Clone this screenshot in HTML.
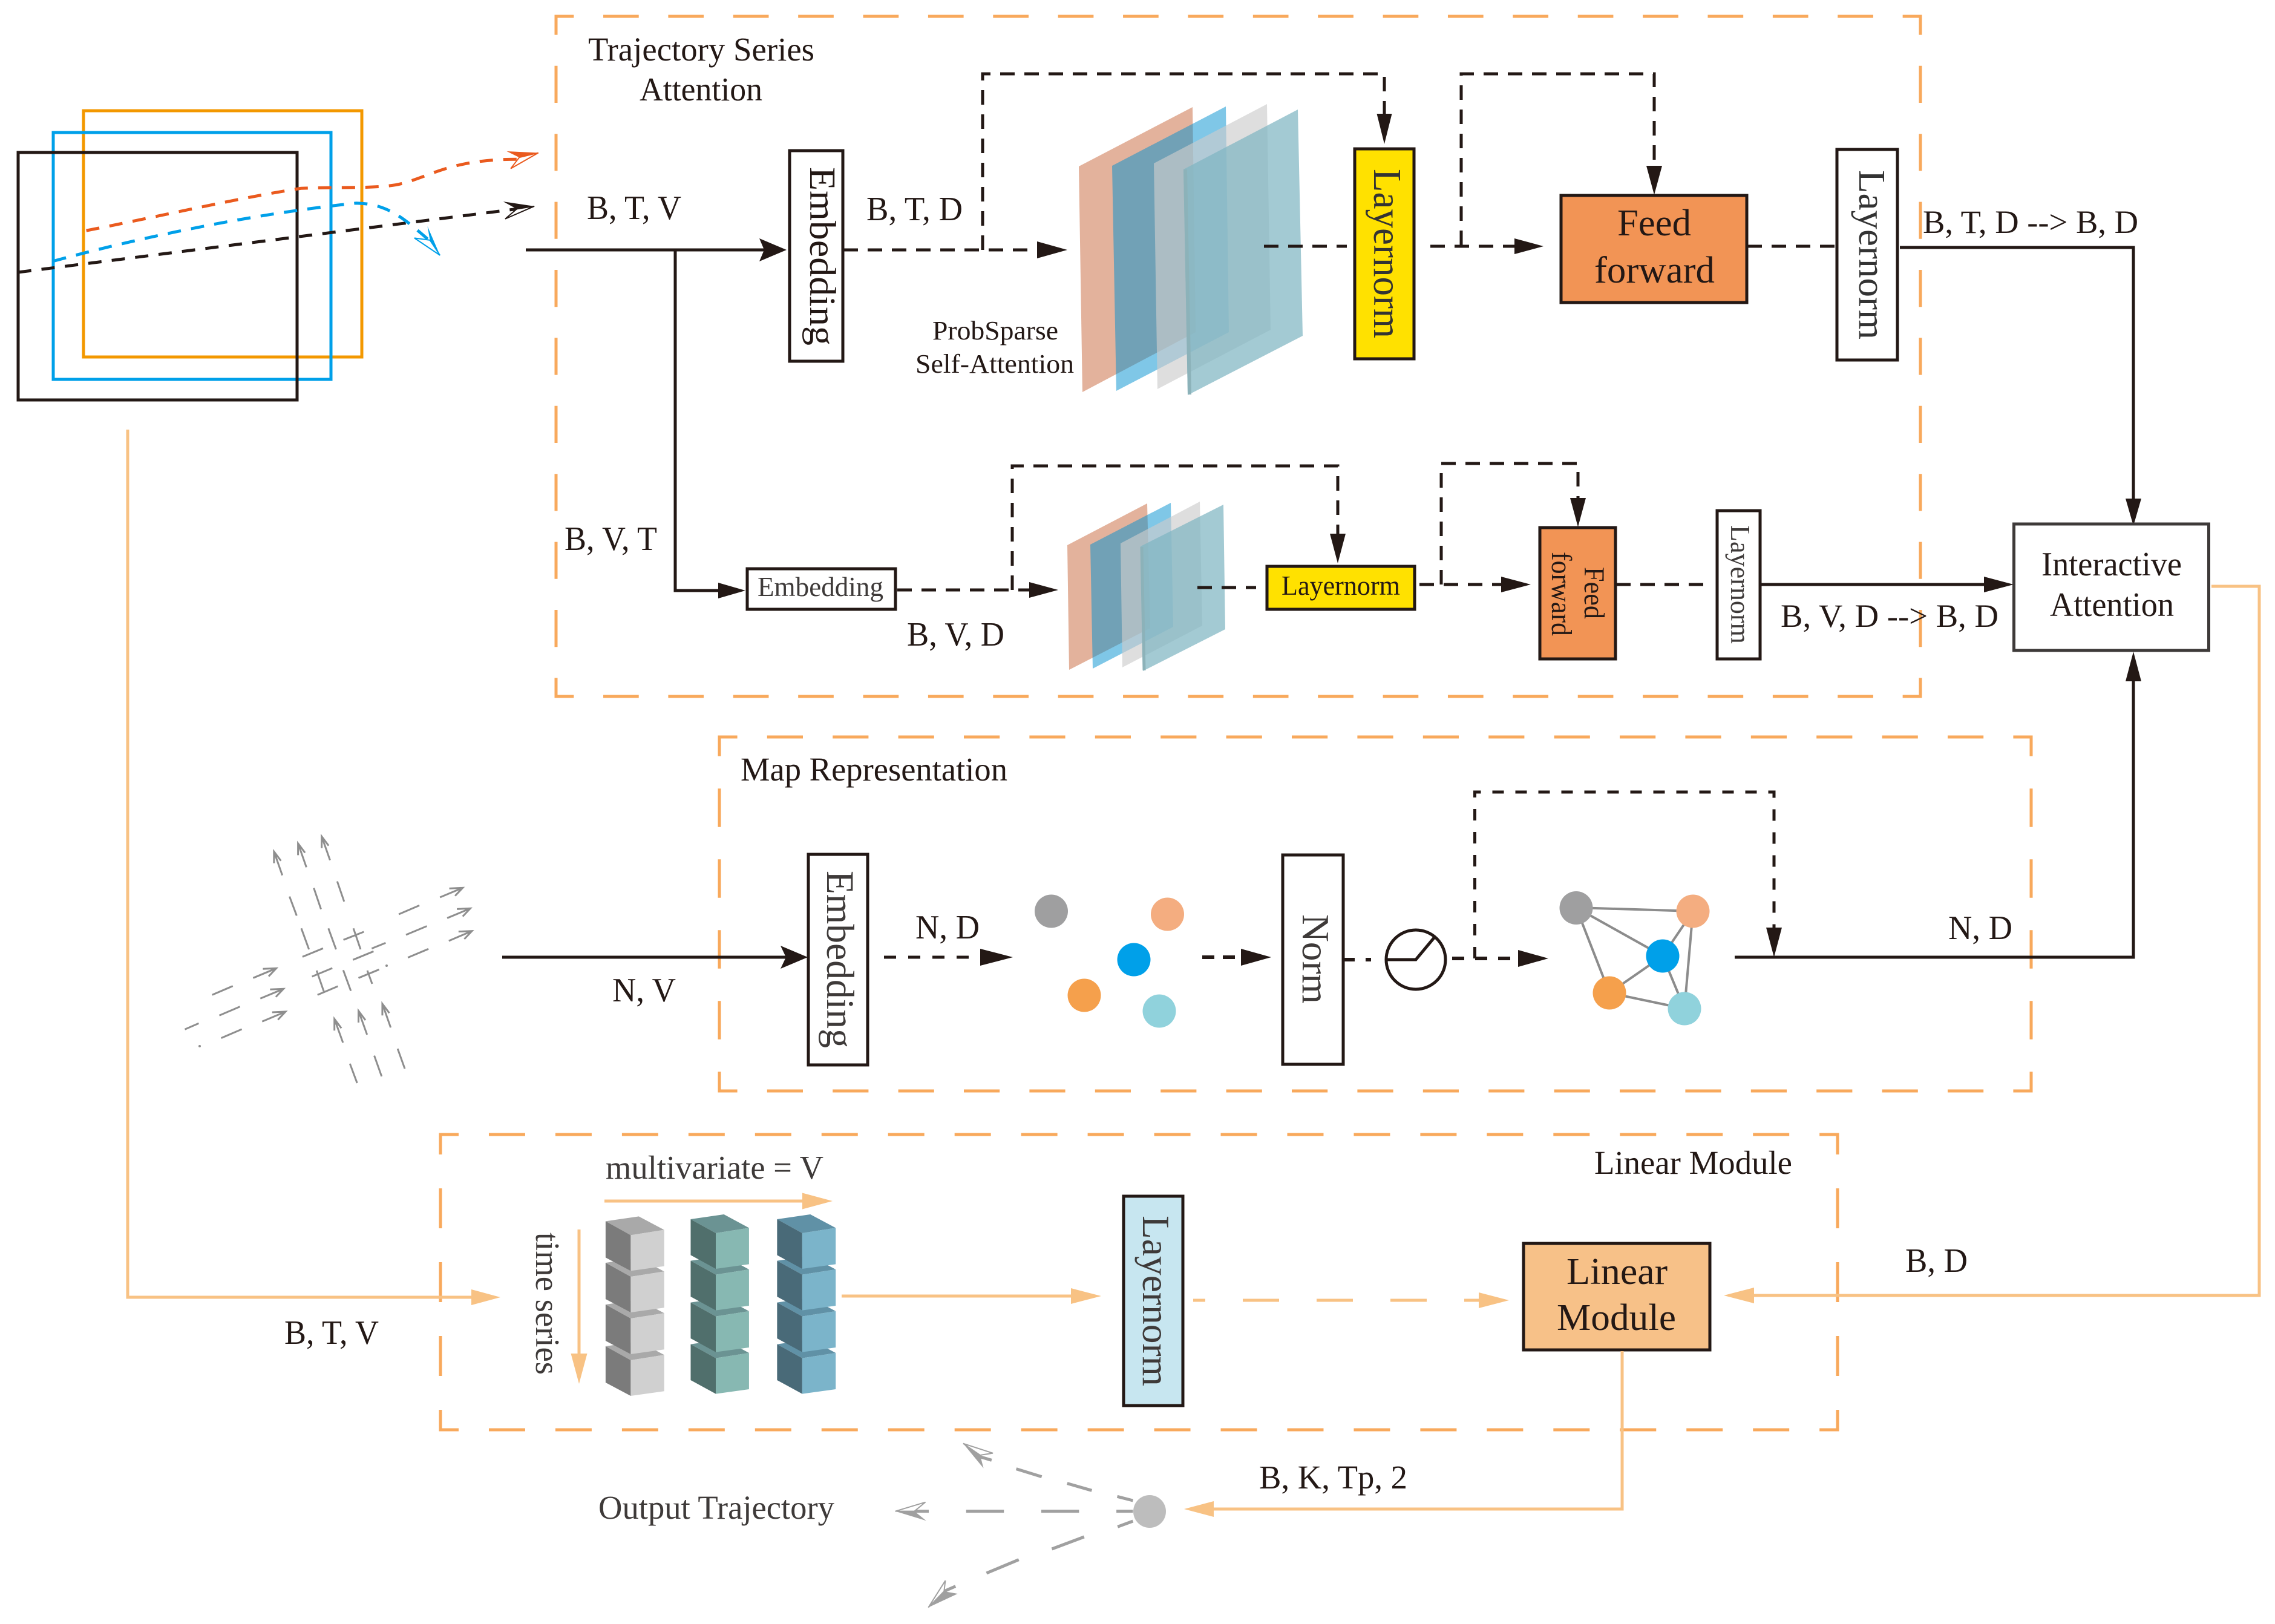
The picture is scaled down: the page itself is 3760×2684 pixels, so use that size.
<!DOCTYPE html>
<html><head><meta charset="utf-8"><style>
html,body{margin:0;padding:0;background:#fff}
svg{display:block}
text{font-family:"Liberation Serif",serif;fill:#231815}
.o{fill:none;stroke:#f8a95c;stroke-width:5}
.l{fill:none;stroke:#231815;stroke-width:5}
.d{fill:none;stroke:#231815;stroke-width:5;stroke-dasharray:24 16}
.p{fill:none;stroke:#f8c284;stroke-width:5}
.g line,.g path{fill:none;stroke:#8e8e8e;stroke-width:3;vector-effect:non-scaling-stroke}
.e line{stroke:#8c8c8c;stroke-width:4}
.k{fill:#231815}
.f{fill:#f8c284}
</style></head><body>
<svg xmlns="http://www.w3.org/2000/svg" width="3760" height="2684" viewBox="0 0 3760 2684">
<rect width="3760" height="2684" fill="#fff"/>

<!-- dashed containers -->
<g class="o" stroke-linecap="square">
<path class="o" stroke-dasharray="53.69 53.69" stroke-dashoffset="26.85" d="M919 27H3174"/>
<path class="o" stroke-dasharray="53.69 53.69" stroke-dashoffset="26.85" d="M919 1151H3174"/>
<path class="o" stroke-dasharray="56.2 56.2" stroke-dashoffset="28.1" d="M919 27V1151"/>
<path class="o" stroke-dasharray="56.2 56.2" stroke-dashoffset="28.1" d="M3174 27V1151"/>
<path class="o" stroke-dasharray="54.2 54.2" stroke-dashoffset="27.1" d="M1189 1218H3357"/>
<path class="o" stroke-dasharray="54.2 54.2" stroke-dashoffset="27.1" d="M1189 1803H3357"/>
<path class="o" stroke-dasharray="58.5 58.5" stroke-dashoffset="29.25" d="M1189 1218V1803"/>
<path class="o" stroke-dasharray="58.5 58.5" stroke-dashoffset="29.25" d="M3357 1218V1803"/>
<path class="o" stroke-dasharray="54.98 54.98" stroke-dashoffset="27.49" d="M728 1875H3037"/>
<path class="o" stroke-dasharray="54.98 54.98" stroke-dashoffset="27.49" d="M728 2363H3037"/>
<path class="o" stroke-dasharray="61 61" stroke-dashoffset="30.5" d="M728 1875V2363"/>
<path class="o" stroke-dasharray="61 61" stroke-dashoffset="30.5" d="M3037 1875V2363"/>
</g>

<!-- frames and trajectories -->
<rect x="138" y="183" width="460" height="407" fill="none" stroke="#f39800" stroke-width="5"/>
<rect x="88" y="219" width="459" height="408" fill="none" stroke="#00a0e9" stroke-width="5"/>
<rect x="30" y="252" width="461" height="409" fill="none" stroke="#231815" stroke-width="5"/>
<g transform="scale(.8292 .5102)">
<path d="M36 882L1030 677" fill="none" stroke="#231815" stroke-width="5" stroke-dasharray="22 17" vector-effect="non-scaling-stroke"/>
<polygon points="1065,668 1030,677 1007,709" fill="#fff" stroke="#231815" stroke-width="2" vector-effect="non-scaling-stroke"/>
<polygon class="k" points="1065,668 1003,653 1030,677"/>
<path d="M172 747C320 700 480 640 600 610C680 605 760 612 800 595C860 570 900 516 1030 516" fill="none" stroke="#ea5a1e" stroke-width="5" stroke-dasharray="22 17" vector-effect="non-scaling-stroke"/>
<polygon points="1073,495 1035,510 1018,546" fill="#fff" stroke="#ea5a1e" stroke-width="2" vector-effect="non-scaling-stroke"/>
<polygon fill="#ea5a1e" points="1073,495 1010,490 1035,510"/>
<path d="M106 846C300 760 520 690 710 658C770 660 800 700 855 778" fill="none" stroke="#00a0e9" stroke-width="5" stroke-dasharray="22 17" vector-effect="non-scaling-stroke"/>
<polygon points="877,827 857,778 826,771" fill="#fff" stroke="#00a0e9" stroke-width="2" vector-effect="non-scaling-stroke"/>
<polygon fill="#00a0e9" points="877,827 852,733 857,778"/>
</g>

<!-- main entry lines -->
<path class="l" d="M869 413H1265"/>
<polygon class="k" points="1300,413 1255,394 1263,413 1255,432"/>
<path class="l" stroke-width="4" d="M1116 415V976H1190"/>
<polygon class="k" points="1232,976 1187,963 1187,989"/>

<!-- upper branch -->
<rect x="1305" y="249" width="88" height="348" fill="#fff" stroke="#231815" stroke-width="5"/>
<path class="d" d="M1394 413H1716"/>
<polygon class="k" points="1764,413 1714,399 1714,427"/>
<path class="d" d="M1624 413V122H2288V190"/>
<polygon class="k" points="2288,238 2275.500,188 2300.500,188"/>

<polygon fill="#e3b29c" points="1783,275 1971,177 1976,549 1789,648"/>
<polygon fill="#0090d0" opacity=".5" points="1838,274 2026,176 2031,549 1845,646"/>
<polygon fill="#cccccc" opacity=".65" points="1907,270 2094,172 2100,545 1913,643"/>
<polygon fill="#7fb5c2" opacity=".72" points="1956,280 2145,181 2153,555 1963,653"/>
<path d="M1959 280L1966 652" stroke="#8cb2b9" stroke-width="6" fill="none"/>

<path class="d" d="M2089 407H2226"/>
<rect x="2239" y="246" width="98" height="347" fill="#ffe100" stroke="#231815" stroke-width="5"/>
<path class="d" d="M2364 407H2505"/>
<polygon class="k" points="2551,407 2503,394 2503,420"/>
<path class="d" d="M2415 405V122H2734V276"/>
<polygon class="k" points="2734,322 2721,274 2747,274"/>
<rect x="2580" y="323" width="307" height="177" fill="#f29455" stroke="#231815" stroke-width="5"/>
<path class="d" d="M2888 407H3032"/>
<rect x="3036" y="247" width="100" height="348" fill="#fff" stroke="#231815" stroke-width="5"/>
<path class="l" d="M3140 409H3526V826"/>
<polygon class="k" points="3526,869 3513,824 3539,824"/>
<rect x="3328.500" y="866" width="322" height="209" fill="#fff" stroke="#3e3a39" stroke-width="5"/>

<!-- lower branch -->
<rect x="1235" y="940" width="245" height="67" fill="#fff" stroke="#231815" stroke-width="5"/>
<path class="d" d="M1483 975H1703"/>
<polygon class="k" points="1749,975 1701,962 1701,988"/>
<path class="d" d="M1673 975V770H2211V884"/>
<polygon class="k" points="2211,931 2198,882 2224,882"/>
<polygon fill="#e3b29c" points="1764,901 1896,832 1901,1038 1767,1107"/>
<polygon fill="#0090d0" opacity=".5" points="1802,900 1935,831 1939,1036 1806,1105"/>
<polygon fill="#cccccc" opacity=".65" points="1852,898 1983,829 1987,1034 1855,1103"/>
<polygon fill="#7fb5c2" opacity=".72" points="1885,903 2022,834 2025,1040 1889,1109"/>
<path d="M1887 904L1891 1108" stroke="#8cb2b9" stroke-width="5" fill="none"/>
<path class="d" d="M1979 971H2076"/>
<rect x="2094" y="936" width="244" height="71" fill="#ffe100" stroke="#231815" stroke-width="5"/>
<path class="d" d="M2346 966H2483"/>
<polygon class="k" points="2530,966 2481,953 2481,979"/>
<path class="d" d="M2382 966V766H2608V825"/>
<polygon class="k" points="2608,871 2595,823 2621,823"/>
<rect x="2545" y="872" width="125" height="217" fill="#f29455" stroke="#231815" stroke-width="5"/>
<path class="d" d="M2671 966H2820"/>
<rect x="2838" y="844" width="71" height="245" fill="#fff" stroke="#231815" stroke-width="5"/>
<path class="l" d="M2909 966H3282"/>
<polygon class="k" points="3328,966 3279,953 3279,979"/>

<!-- road map icon -->
<g class="g" transform="translate(250 1350) scale(.3827 .3333)">
<path d="M566 290L530 172M530 230L530 172L560 218"/>
<path d="M670 250L634 132M634 190L634 132L664 178"/>
<path d="M772 215L736 97M736 155L736 97L766 143"/>
<path d="M828 1120L791 1002M791 1060L791 1002L821 1048"/>
<path d="M932 1080L895 962M895 1020L895 962L925 1008"/>
<path d="M1034 1045L998 927M998 985L998 927L1028 973"/>
<path d="M1247 399L1345 352M1287 355L1345 352L1312 392"/>
<path d="M1278 502L1378 454M1320 457L1378 454L1345 494"/>
<path d="M1285 615L1385 566M1327 569L1385 566L1352 606"/>
<path d="M440 799L540 751M482 754L540 751L507 791"/>
<path d="M471 901L571 853M513 856L571 853L538 893"/>
<path d="M479 1015L580 966M522 969L580 966L547 1006"/>
<line x1="597" y1="395" x2="628" y2="490"/><line x1="702" y1="353" x2="733" y2="458"/><line x1="803" y1="320" x2="833" y2="420"/>
<line x1="648" y1="553" x2="681" y2="657"/><line x1="765" y1="553" x2="798" y2="657"/><line x1="873" y1="553" x2="904" y2="657"/>
<line x1="830" y1="610" x2="918" y2="570"/><line x1="653" y1="694" x2="742" y2="652"/><line x1="871" y1="709" x2="960" y2="667"/><line x1="952" y1="653" x2="1012" y2="625"/>
<line x1="694" y1="792" x2="782" y2="750"/><line x1="718" y1="883" x2="806" y2="840"/><line x1="895" y1="799" x2="984" y2="757"/>
<line x1="714" y1="762" x2="745" y2="865"/><line x1="829" y1="760" x2="862" y2="863"/><line x1="933" y1="762" x2="954" y2="828"/>
<line x1="858" y1="1224" x2="889" y2="1320"/><line x1="963" y1="1184" x2="995" y2="1287"/><line x1="1064" y1="1150" x2="1095" y2="1249"/>
<line x1="1069" y1="483" x2="1158" y2="439"/><line x1="1100" y1="585" x2="1190" y2="542"/><line x1="1108" y1="698" x2="1197" y2="655"/>
<line x1="263" y1="883" x2="352" y2="839"/><line x1="294" y1="985" x2="383" y2="941"/><line x1="302" y1="1097" x2="391" y2="1053"/><line x1="145" y1="1054" x2="205" y2="1024"/>
</g>
<circle cx="639" cy="1596" r="2" fill="#8e8e8e"/><circle cx="330" cy="1729" r="2" fill="#8e8e8e"/>

<!-- map representation row -->
<path class="l" d="M830 1582H1300"/>
<polygon class="k" points="1335,1582 1290,1563 1299,1582 1290,1601"/>
<rect x="1336" y="1412" width="98" height="348" fill="#fff" stroke="#231815" stroke-width="5"/>
<path d="M1461 1582H1622" fill="none" stroke="#231815" stroke-width="5" stroke-dasharray="20 20"/>
<polygon class="k" points="1674,1582 1620,1568 1620,1596"/>
<circle cx="1737.500" cy="1506" r="27.500" fill="#9f9fa0"/>
<circle cx="1929.500" cy="1511" r="27.500" fill="#f4ad80"/>
<circle cx="1874" cy="1586" r="27.500" fill="#00a0e9"/>
<circle cx="1792" cy="1645" r="27.500" fill="#f5a04c"/>
<circle cx="1916" cy="1671" r="27.500" fill="#90d2dc"/>
<path d="M1987 1582H2051" fill="none" stroke="#231815" stroke-width="6" stroke-dasharray="20 14"/>
<polygon class="k" points="2101,1582 2051,1568 2051,1596"/>
<rect x="2120" y="1413" width="100" height="346" fill="#fff" stroke="#231815" stroke-width="5"/>
<path d="M2221 1586H2266" fill="none" stroke="#231815" stroke-width="6" stroke-dasharray="18 18"/>
<circle cx="2340" cy="1586" r="49" fill="#fff" stroke="#231815" stroke-width="5"/>
<path d="M2293 1586H2340L2370 1550" fill="none" stroke="#231815" stroke-width="5"/>
<path d="M2400 1584H2509" fill="none" stroke="#231815" stroke-width="6" stroke-dasharray="20 18"/>
<polygon class="k" points="2559,1584 2509,1570 2509,1598"/>
<path d="M2437.500 1584V1309H2932V1535" fill="none" stroke="#231815" stroke-width="5" stroke-dasharray="19 19"/>
<polygon class="k" points="2932,1582 2919,1533 2945,1533"/>
<g class="e">
<line x1="2605" y1="1500" x2="2798" y2="1506"/><line x1="2605" y1="1500" x2="2748" y2="1580"/>
<line x1="2605" y1="1500" x2="2660" y2="1641"/><line x1="2798" y1="1506" x2="2748" y2="1580"/>
<line x1="2798" y1="1506" x2="2784" y2="1667"/><line x1="2748" y1="1580" x2="2660" y2="1641"/>
<line x1="2748" y1="1580" x2="2784" y2="1667"/><line x1="2660" y1="1641" x2="2784" y2="1667"/>
</g>
<circle cx="2605" cy="1500.500" r="27.500" fill="#9f9fa0"/>
<circle cx="2798" cy="1506" r="27.500" fill="#f4ad80"/>
<circle cx="2748" cy="1580" r="27.500" fill="#00a0e9"/>
<circle cx="2660" cy="1641" r="27.500" fill="#f5a04c"/>
<circle cx="2784" cy="1667" r="27.500" fill="#90d2dc"/>
<path class="l" d="M2867 1582H3526V1122"/>
<polygon class="k" points="3526,1077 3513,1126 3539,1126"/>

<!-- cube stacks -->
<g transform="translate(850 1900) scale(.4464 .3333)">
<g transform="translate(0 620)"><polygon fill="#a9a9a9" points="338,355 461,331 555,398 431,424"/><polygon fill="#7b7b7b" points="338,355 431,424 431,601 338,535"/><polygon fill="#d0d0d0" points="431,424 555,398 555,578 431,601"/></g>
<g transform="translate(0 413)"><polygon fill="#a9a9a9" points="338,355 461,331 555,398 431,424"/><polygon fill="#7b7b7b" points="338,355 431,424 431,601 338,535"/><polygon fill="#d0d0d0" points="431,424 555,398 555,578 431,601"/></g>
<g transform="translate(0 206)"><polygon fill="#a9a9a9" points="338,355 461,331 555,398 431,424"/><polygon fill="#7b7b7b" points="338,355 431,424 431,601 338,535"/><polygon fill="#d0d0d0" points="431,424 555,398 555,578 431,601"/></g>
<g><polygon fill="#a9a9a9" points="338,355 461,331 555,398 431,424"/><polygon fill="#7b7b7b" points="338,355 431,424 431,601 338,535"/><polygon fill="#d0d0d0" points="431,424 555,398 555,578 431,601"/></g>
<g transform="translate(0 620)"><polygon fill="#6b9393" points="653,345 776,321 869,388 746,414"/><polygon fill="#506f6c" points="653,345 746,414 746,591 653,523"/><polygon fill="#87b8b2" points="746,414 869,388 869,568 746,591"/></g>
<g transform="translate(0 413)"><polygon fill="#6b9393" points="653,345 776,321 869,388 746,414"/><polygon fill="#506f6c" points="653,345 746,414 746,591 653,523"/><polygon fill="#87b8b2" points="746,414 869,388 869,568 746,591"/></g>
<g transform="translate(0 206)"><polygon fill="#6b9393" points="653,345 776,321 869,388 746,414"/><polygon fill="#506f6c" points="653,345 746,414 746,591 653,523"/><polygon fill="#87b8b2" points="746,414 869,388 869,568 746,591"/></g>
<g><polygon fill="#6b9393" points="653,345 776,321 869,388 746,414"/><polygon fill="#506f6c" points="653,345 746,414 746,591 653,523"/><polygon fill="#87b8b2" points="746,414 869,388 869,568 746,591"/></g>
<g transform="translate(0 620)"><polygon fill="#6091a6" points="973,345 1096,321 1190,388 1066,414"/><polygon fill="#496a78" points="973,345 1066,414 1066,591 973,523"/><polygon fill="#7bb4ca" points="1066,414 1190,388 1190,568 1066,591"/></g>
<g transform="translate(0 413)"><polygon fill="#6091a6" points="973,345 1096,321 1190,388 1066,414"/><polygon fill="#496a78" points="973,345 1066,414 1066,591 973,523"/><polygon fill="#7bb4ca" points="1066,414 1190,388 1190,568 1066,591"/></g>
<g transform="translate(0 206)"><polygon fill="#6091a6" points="973,345 1096,321 1190,388 1066,414"/><polygon fill="#496a78" points="973,345 1066,414 1066,591 973,523"/><polygon fill="#7bb4ca" points="1066,414 1190,388 1190,568 1066,591"/></g>
<g><polygon fill="#6091a6" points="973,345 1096,321 1190,388 1066,414"/><polygon fill="#496a78" points="973,345 1066,414 1066,591 973,523"/><polygon fill="#7bb4ca" points="1066,414 1190,388 1190,568 1066,591"/></g>
</g>

<!-- linear module row -->
<path class="p" d="M999 1985H1330"/><polygon class="f" points="1376,1985 1326,1971.500 1326,1998.500"/>
<path class="p" d="M957 2032V2240"/><polygon class="f" points="957,2287 943.500,2237 970.500,2237"/>
<path class="p" d="M211 710V2144H782"/><polygon class="f" points="827,2144 779,2131 779,2157"/>
<path class="p" d="M1391 2142H1775"/><polygon class="f" points="1820,2142 1770,2129 1770,2155"/>
<rect x="1857" y="1977" width="98" height="346" fill="#c7e6f0" stroke="#231815" stroke-width="5"/>
<path class="p" stroke-dasharray="60 62" stroke-dashoffset="40" d="M1972 2149H2446"/><polygon class="f" points="2494,2149 2444,2136 2444,2162"/>
<rect x="2518" y="2055" width="308" height="176" fill="#f7c188" stroke="#231815" stroke-width="5"/>
<path class="p" d="M3655 969H3734V2141H2895"/><polygon class="f" points="2849,2141 2899,2128 2899,2154"/>
<path class="p" d="M2681 2233V2494H2005"/><polygon class="f" points="1957,2494 2006,2481 2006,2507"/>

<!-- output trajectories -->
<ellipse cx="1900" cy="2498" rx="27" ry="27" fill="#bdbdbd"/>
<g transform="translate(950 2350) scale(.7015 .3333)">
<path d="M1315 443H1276M1188 443H1099M1011 443H922M834 443H790" fill="none" stroke="#a0a0a0" stroke-width="5" vector-effect="non-scaling-stroke"/>
<path d="M1315 390L1278 370M1218 340L1160 305M1100 272L1040 233M982 190L950 170" fill="none" stroke="#a0a0a0" stroke-width="5" vector-effect="non-scaling-stroke"/>
<path d="M1315 492L1279 520M1200 570L1124 630M1046 683L970 750M897 815L870 840" fill="none" stroke="#a0a0a0" stroke-width="5" vector-effect="non-scaling-stroke"/>
<polygon fill="#a0a0a0" points="755,443 800,443 828,490"/>
<polygon fill="#fff" stroke="#a0a0a0" stroke-width="2" vector-effect="non-scaling-stroke" points="755,443 826,398 800,443"/>
<polygon fill="#a0a0a0" points="915,107 955,165 963,230"/>
<polygon fill="#fff" stroke="#a0a0a0" stroke-width="2" vector-effect="non-scaling-stroke" points="915,107 985,155 955,165"/>
<polygon fill="#a0a0a0" points="833,920 870,840 902,852"/>
<polygon fill="#fff" stroke="#a0a0a0" stroke-width="2" vector-effect="non-scaling-stroke" points="833,920 873,787 870,840"/>
</g>

<!-- horizontal labels -->
<text x="972" y="100" font-size="55" textLength="374" lengthAdjust="spacingAndGlyphs">Trajectory Series</text>
<text x="1057" y="166" font-size="55" textLength="203" lengthAdjust="spacingAndGlyphs">Attention</text>
<text x="970" y="362" font-size="56" textLength="156" lengthAdjust="spacingAndGlyphs">B, T, V</text>
<text x="1432" y="364" font-size="56" textLength="159" lengthAdjust="spacingAndGlyphs">B, T, D</text>
<text x="1541" y="561" font-size="44" textLength="208" lengthAdjust="spacingAndGlyphs">ProbSparse</text>
<text x="1513" y="616" font-size="44" textLength="262" lengthAdjust="spacingAndGlyphs">Self-Attention</text>
<text x="2673" y="389" font-size="62" textLength="122" lengthAdjust="spacingAndGlyphs">Feed</text>
<text x="2635" y="467" font-size="62" textLength="199" lengthAdjust="spacingAndGlyphs">forward</text>
<text x="3178" y="385" font-size="54" textLength="356" lengthAdjust="spacingAndGlyphs">B, T, D --&gt; B, D</text>
<text x="3374" y="951" font-size="56" textLength="232" lengthAdjust="spacingAndGlyphs">Interactive</text>
<text x="3388" y="1018" font-size="56" textLength="205" lengthAdjust="spacingAndGlyphs">Attention</text>
<text x="933" y="909" font-size="56" textLength="153" lengthAdjust="spacingAndGlyphs">B, V, T</text>
<text x="1252" y="985" font-size="45" textLength="208" lengthAdjust="spacingAndGlyphs" style="fill:#3e3a39">Embedding</text>
<text x="1499" y="1067" font-size="56" textLength="161" lengthAdjust="spacingAndGlyphs">B, V, D</text>
<text x="2118" y="983" font-size="46" textLength="196" lengthAdjust="spacingAndGlyphs">Layernorm</text>
<text x="2943" y="1036" font-size="54" textLength="360" lengthAdjust="spacingAndGlyphs">B, V, D --&gt; B, D</text>
<text x="1224" y="1290" font-size="55" textLength="441" lengthAdjust="spacingAndGlyphs">Map Representation</text>
<text x="1012" y="1655" font-size="56" textLength="105" lengthAdjust="spacingAndGlyphs">N, V</text>
<text x="1513" y="1551" font-size="56" textLength="106" lengthAdjust="spacingAndGlyphs">N, D</text>
<text x="3220" y="1552" font-size="56" textLength="106" lengthAdjust="spacingAndGlyphs">N, D</text>
<text x="1001" y="1948" font-size="55" textLength="360" lengthAdjust="spacingAndGlyphs" style="fill:#3e3a39">multivariate = V</text>
<text x="2635" y="1940" font-size="55" textLength="327" lengthAdjust="spacingAndGlyphs">Linear Module</text>
<text x="2589" y="2122" font-size="62" textLength="167" lengthAdjust="spacingAndGlyphs">Linear</text>
<text x="2573" y="2198" font-size="62" textLength="197" lengthAdjust="spacingAndGlyphs">Module</text>
<text x="3149" y="2102" font-size="56" textLength="103" lengthAdjust="spacingAndGlyphs">B, D</text>
<text x="470" y="2221" font-size="56" textLength="156" lengthAdjust="spacingAndGlyphs">B, T, V</text>
<text x="2081" y="2460" font-size="55" textLength="245" lengthAdjust="spacingAndGlyphs">B, K, Tp, 2</text>
<text x="989" y="2510" font-size="55" textLength="390" lengthAdjust="spacingAndGlyphs" style="fill:#3e3a39">Output Trajectory</text>

<!-- rotated labels -->
<text transform="translate(1339 276) rotate(90)" font-size="61" textLength="295" lengthAdjust="spacingAndGlyphs">Embedding</text>
<text transform="translate(2271 279) rotate(90)" font-size="66" textLength="280" lengthAdjust="spacingAndGlyphs" style="fill:#333">Layernorm</text>
<text transform="translate(3073 281) rotate(90)" font-size="62" textLength="280" lengthAdjust="spacingAndGlyphs" style="fill:#333">Layernorm</text>
<text transform="translate(2619 937) rotate(90)" font-size="48" textLength="86" lengthAdjust="spacingAndGlyphs">Feed</text>
<text transform="translate(2565 912) rotate(90)" font-size="48" textLength="139" lengthAdjust="spacingAndGlyphs">forward</text>
<text transform="translate(2861 868) rotate(90)" font-size="46" textLength="196" lengthAdjust="spacingAndGlyphs" style="fill:#3e3a39">Layernorm</text>
<text transform="translate(1367 1439) rotate(90)" font-size="65" textLength="293" lengthAdjust="spacingAndGlyphs" style="fill:#3e3a39">Embedding</text>
<text transform="translate(2153 1511) rotate(90)" font-size="64" textLength="148" lengthAdjust="spacingAndGlyphs" style="fill:#3e3a39">Norm</text>
<text transform="translate(1889 2009) rotate(90)" font-size="64" textLength="282" lengthAdjust="spacingAndGlyphs" style="fill:#3e3a39">Layernorm</text>
<text transform="translate(886 2037) rotate(90)" font-size="56" textLength="235" lengthAdjust="spacingAndGlyphs" style="fill:#3e3a39">time series</text>
</svg>
</body></html>
